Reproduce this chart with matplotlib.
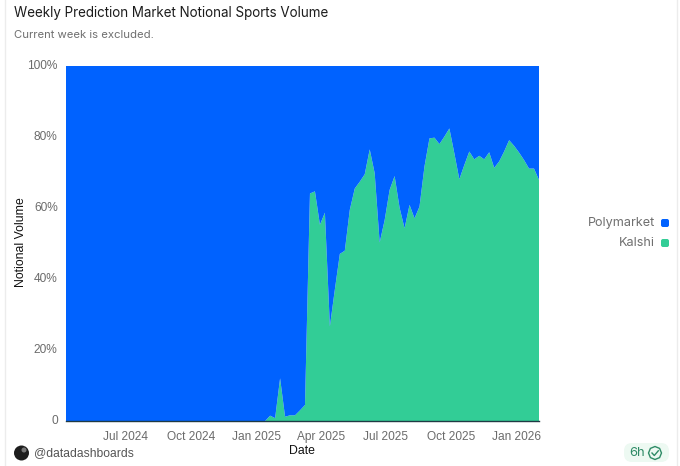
import matplotlib
matplotlib.use('Agg')
import matplotlib.pyplot as plt
import matplotlib.patches as mpatches
import matplotlib.transforms as mtrans
import pandas as pd
import matplotlib.dates as mdates

week_dates = pd.date_range('2024-04-08', '2026-02-02', freq='7D')

kalshi = [0] * 40 + [
    0, 1.5, 0.8, 12, 1.2, 1.6, 1.6, 3, 4.5, 64,
    64.6, 55.2, 58.6, 26.6, 37, 47, 47.9, 59.4, 65.4, 67.3,
    69.4, 76.4, 69.7, 50.2, 56.5, 65, 68.9, 60, 54.2, 60.8,
    57, 60.3, 71.6, 79.5, 79.7, 77.9, 80, 82.3, 75.3, 68,
    72, 75.8, 73.6, 74.6, 73.6, 75.6, 71.2, 73, 75.8, 79,
    77.4, 75.5, 73.4, 71, 71, 67.8]
polymarket = [100] * 40 + [
    100, 98.5, 99.2, 88, 98.8, 98.4, 98.4, 97, 95.5, 36,
    35.4, 44.8, 41.4, 73.4, 63, 53, 52.1, 40.6, 34.6, 32.7,
    30.6, 23.6, 30.3, 49.8, 43.5, 35, 31.1, 40, 45.8, 39.2,
    43, 39.7, 28.4, 20.5, 20.3, 22.1, 20, 17.7, 24.7, 32,
    28, 24.2, 26.4, 25.4, 26.4, 24.4, 28.8, 27, 24.2, 21,
    22.6, 24.5, 26.6, 29, 29, 32.2]

x_ticks = ['2024-07-01', '2024-10-01', '2025-01-01', '2025-04-01',
           '2025-07-01', '2025-10-01', '2026-01-01']
y_ticks = [0, 20, 40, 60, 80, 100]
y_labels = ['0', '20%', '40%', '60%', '80%', '100%']

BLUE = '#0062ff'
GREEN = '#32cd96'
W, H = 680, 466

fig = plt.figure(figsize=(W / 100, H / 100), dpi=100)

# overlay in pixel coords for the card furniture
deco = fig.add_axes([0, 0, 1, 1])
deco.set_xlim(0, W)
deco.set_ylim(H, 0)
deco.axis('off')
deco.plot([5, 5], [0, H], color='#ececec', lw=1)
deco.plot([677, 677], [0, H], color='#ececec', lw=1)

ax = fig.add_axes([66 / W, 1 - 421 / H, 473 / W, 355.5 / H])
ax.stackplot(week_dates, kalshi, polymarket, colors=[GREEN, BLUE], lw=0)
ax.set_xlim(week_dates[0], week_dates[-1])
ax.set_ylim(0, 100)

for side in ['top', 'left', 'right']:
    ax.spines[side].set_visible(False)
ax.spines['bottom'].set_color('#1f3a44')
ax.spines['bottom'].set_linewidth(1)

ax.set_xticks([mdates.date2num(pd.Timestamp(d)) for d in x_ticks])
ax.xaxis.set_major_formatter(mdates.DateFormatter('%b %Y'))
ax.set_yticks(y_ticks)
ax.set_yticklabels(y_labels)
ax.tick_params(axis='both', length=0, labelsize=8.6, labelcolor='#6b6b6b',
               labelfontfamily='Liberation Sans')
ax.tick_params(axis='x', pad=7)
ax.tick_params(axis='y', pad=6)

# y labels sit a pixel above their gridline in the original
shift_up = mtrans.ScaledTranslation(0, 1 / 100, fig.dpi_scale_trans)
for lab in ax.get_yticklabels():
    lab.set_transform(lab.get_transform() + shift_up)

title_font = 'Inter'
deco.text(14, 13, 'Weekly Prediction Market Notional Sports Volume', fontsize=9.65,
          family=title_font, color='#1c1c1c', va='center')
deco.text(14, 35, 'Current week is excluded.', fontsize=8.15, family=title_font,
          color='#6f6f6f', va='center')
deco.text(21.5, 242, 'Notional Volume', fontsize=8.8, family='Liberation Sans',
          color='#111111', rotation=90, ha='center', va='center')
deco.text(302, 451, 'Date', fontsize=8.8, family='Liberation Sans',
          color='#111111', ha='center', va='center')

# legend
for label, color, y in [('Polymarket', BLUE, 223), ('Kalshi', GREEN, 243)]:
    deco.add_patch(mpatches.FancyBboxPatch((661, y - 4), 8, 8, boxstyle='round,pad=0,rounding_size=2',
                                           fc=color, ec='none'))
    deco.text(655, y, label, fontsize=9.1, family=title_font, color='#6f6f6f',
              ha='right', va='center')

# author
deco.add_patch(mpatches.Circle((21.5, 453), 7.5, fc='#1d1d1d', ec='none'))
deco.add_patch(mpatches.Circle((24, 450), 2.5, fc='#777777', ec='none'))
deco.text(34, 453, '@datadashboards', fontsize=8.7, family='Liberation Sans',
          color='#555555', va='center')

# refresh badge
deco.add_patch(mpatches.FancyBboxPatch((624, 443), 45, 19, boxstyle='round,pad=0,rounding_size=8',
                                       fc='#edf9f2', ec='none'))
deco.text(629, 453, '6h', fontsize=9.3, family=title_font, color='#2e8b66', va='center')
deco.add_patch(mpatches.RegularPolygon((655, 453), 8, radius=6.5, fc='none', ec='#2e8b66', lw=1))
deco.plot([652, 654.3, 658.3], [453, 455.5, 450.8], color='#2e8b66', lw=1)

fig.savefig('out.png', dpi=100)
